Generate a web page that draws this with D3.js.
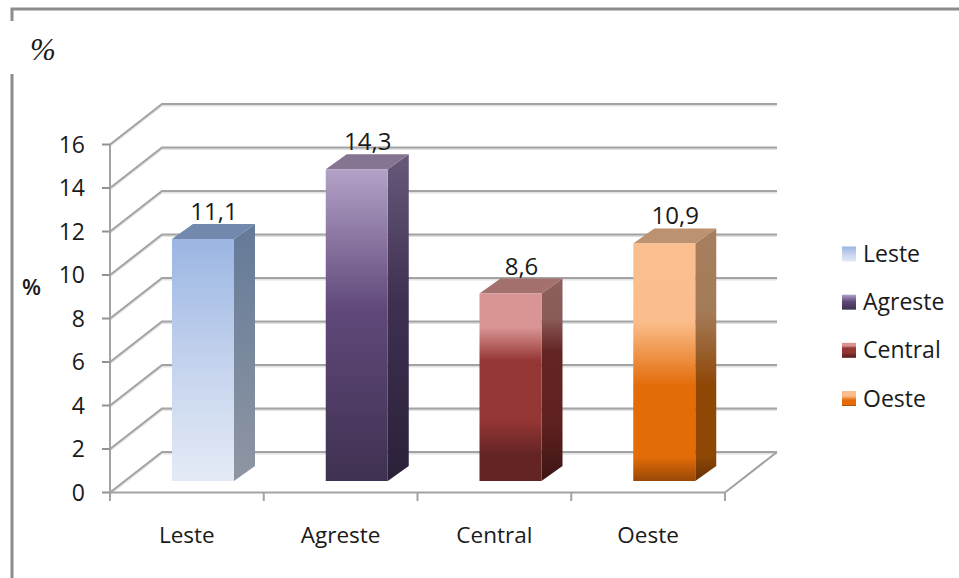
<!DOCTYPE html>
<html><head><meta charset="utf-8">
<script src="https://cdn.jsdelivr.net/npm/d3@7"></script>
<style>html,body{margin:0;padding:0;background:#fff}svg{display:block}text{font-family:"Open Sans",sans-serif;fill:#1a1a1a}</style>
</head><body><div id="c"></div>
<script>
const categories = ["Leste","Agreste","Central","Oeste"];
const values = [11.1,14.3,8.6,10.9];
const valueLabels = ["11,1","14,3","8,6","10,9"];
const yTicks = [0,2,4,6,8,10,12,14,16];
const frontStops = [
  [[0,"#9bb6e3"],[.5,"#c3d2ed"],[1,"#e4ebf6"]],
  [[0,"#b3a2c7"],[.45,"#60497a"],[1,"#3f3151"]],
  [[0,"#d99594"],[.18,"#d99594"],[.36,"#943634"],[.68,"#943634"],[.86,"#632423"],[1,"#632423"]],
  [[0,"#fbbf8f"],[.33,"#fbbd8b"],[.6,"#e36c09"],[.9,"#e36c09"],[1,"#974806"]]
];
const sideStops = [
  [[0,"#647a98"],[1,"#8f96a3"]],
  [[0,"#66597a"],[.45,"#3f3052"],[1,"#2a2139"]],
  [[0,"#8f5f5e"],[.2,"#8a5a59"],[.36,"#632423"],[.7,"#602221"],[1,"#3d1514"]],
  [[0,"#a67f5e"],[.33,"#a47b58"],[.62,"#8f4706"],[.9,"#8f4706"],[1,"#653004"]]
];
const topColors = ["#7288ac","#867592","#a4706e","#bd9270"];

const W=959,H=578;
const svg=d3.select("#c").append("svg").attr("width",W).attr("height",H);
const defs=svg.append("defs");
const x=d3.scaleBand().domain(categories).range([110,725]);
const yFloor=d3.scaleLinear().domain([0,16]).range([492.5,144.5]);
const yBar=d3.scaleLinear().domain([0,16]).range([481,132.2]);
const backDx=52,backDy=-40.5,depthX=21,depthY=-15,barW=62,barOff=62;

function grad(id,stops){
  const g=defs.append("linearGradient").attr("id",id).attr("x1",0).attr("y1",0).attr("x2",0).attr("y2",1);
  stops.forEach(s=>g.append("stop").attr("offset",s[0]).attr("stop-color",s[1]));
}
categories.forEach((c,i)=>{grad("f"+i,frontStops[i]);grad("s"+i,sideStops[i]);});

// page frame
const frame="#8c8c8c";
svg.append("path").attr("d","M12,21V9H959").attr("fill","none").attr("stroke",frame).attr("stroke-width",3);
svg.append("path").attr("d","M12,74V578").attr("fill","none").attr("stroke",frame).attr("stroke-width",3);
svg.append("text").text("%").attr("x",30).attr("y",60).style("font-family","'Liberation Serif',serif").style("font-style","italic").attr("font-size",31);

// gridlines
const gridC="#a3a3a3";
const g=svg.append("g").attr("fill","none");
yTicks.forEach(t=>{
  const y=yFloor(t),d=`M110,${y}L${110+backDx},${y+backDy}H${725+backDx}`;
  g.append("path").attr("d",d).attr("stroke","#e2e2e2").attr("stroke-width",2).attr("transform","translate(0,1.5)");
  g.append("path").attr("d",d).attr("stroke",gridC).attr("stroke-width",2);
});
// floor front & right edge
g.append("path").attr("d",`M110,${yFloor(0)}H725L${725+backDx},${yFloor(0)+backDy}`).attr("stroke",gridC).attr("stroke-width",2);
// axes
g.append("path").attr("d",`M110,${yFloor(16)}V500`).attr("stroke",gridC).attr("stroke-width",2);
yTicks.forEach(t=>g.append("path").attr("d",`M102,${yFloor(t)}H110`).attr("stroke","#929292").attr("stroke-width",2));
[...categories.map(c=>x(c)),725].forEach(v=>g.append("path").attr("d",`M${v},${yFloor(0)}V501`).attr("stroke",gridC).attr("stroke-width",2));

svg.append("g").selectAll("text").data(yTicks).join("text").text(d=>d)
  .attr("x",85).attr("y",d=>yFloor(d)+8).attr("text-anchor","end").attr("font-size",23);
svg.append("g").selectAll("text").data(categories).join("text").text(d=>d)
  .attr("x",d=>x(d)+x.bandwidth()/2).attr("y",543).attr("text-anchor","middle").attr("font-size",22.5);
svg.append("text").text("%").attr("x",22).attr("y",295).attr("font-size",22).attr("font-weight",600);

// bars
categories.forEach((c,i)=>{
  const l=x(c)+barOff,r=l+barW,t=yBar(values[i]),b=yBar(0);
  const bar=svg.append("g");
  bar.append("path").attr("d",`M${r},${b}L${r+depthX},${b+depthY}V${t+depthY}L${r},${t}Z`).attr("fill",`url(#s${i})`);
  bar.append("path").attr("d",`M${l},${t}L${l+depthX},${t+depthY}H${r+depthX}L${r},${t}Z`).attr("fill",topColors[i]);
  bar.append("rect").attr("x",l).attr("y",t).attr("width",barW).attr("height",b-t).attr("fill",`url(#f${i})`);
  svg.append("text").text(valueLabels[i]).attr("x",l+42).attr("y",t-19).attr("text-anchor","middle").attr("font-size",24);
});

// legend
const legY=d3.scalePoint().domain(categories).range([254,398.5]);
categories.forEach((c,i)=>{
  svg.append("rect").attr("x",842).attr("y",legY(c)-7.5).attr("width",14).attr("height",15).attr("fill",`url(#f${i})`);
  svg.append("text").text(c).attr("x",863).attr("y",legY(c)+8).attr("font-size",23);
});
</script></body></html>
